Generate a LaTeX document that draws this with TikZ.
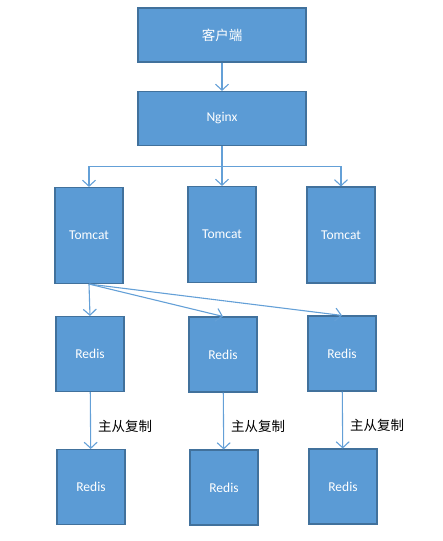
\documentclass[tikz,border=0pt]{standalone}
\usepackage{fontspec}
\setmainfont{Carlito}
\newfontfamily\cjk{Noto Sans CJK SC}
\usetikzlibrary{arrows.meta,positioning}
\definecolor{boxblue}{RGB}{91,155,213}
\definecolor{boxedge}{RGB}{65,113,156}
\definecolor{linkblue}{RGB}{100,160,215}

\begin{document}
\begin{tikzpicture}[x=1pt,y=-1pt]
    \tikzstyle{box}=[draw=boxedge, line width=1.1pt, fill=boxblue, text=white, inner sep=0pt, align=center, font=\fontsize{13.5}{16}\selectfont]
    \tikzstyle{wide}=[box, minimum width=168pt, minimum height=54pt]
    \tikzstyle{tall}=[box, minimum width=68pt, minimum height=96pt]
    \tikzstyle{square}=[box, minimum width=68pt, minimum height=75pt]
    \tikzstyle{link}=[draw=linkblue, line width=1.1pt, -{Straight Barb[length=6pt,width=13pt,line width=1.1pt]}]
    \tikzstyle{note}=[font=\cjk\fontsize{13.5}{16}\selectfont, inner sep=0pt, anchor=west, xshift=7pt]
    \useasboundingbox (0,0) rectangle (443,541);
    % top: client and nginx
    \node[wide] (client) at (222,35) {\cjk 客户端};
    \node[wide] (nginx) at (222,118.5) {Nginx};
    % tomcat row
    \node[tall] (tomcat1) at (89,235.5) {Tomcat};
    \node[tall] (tomcat2) at (222,234.5) {Tomcat};
    \node[tall] (tomcat3) at (341,235) {Tomcat};
    % redis masters
    \node[square] (redis1) at (90,354) {Redis};
    \node[square] (redis2) at (223,354.5) {Redis};
    \node[square] (redis3) at (342,353.5) {Redis};
    % redis slaves
    \node[square] (slave1) at (91,487) {Redis};
    \node[square] (slave2) at (224,487.5) {Redis};
    \node[square] (slave3) at (343,486.5) {Redis};
    % connectors
    \draw[link] (client) -- (nginx);
    \coordinate (split) at ([yshift=-20pt]nginx.south);
    \draw[link] (nginx.south) -- (tomcat2.north);
    \draw[link] (split) -| (tomcat1.north);
    \draw[link] (split) -| (tomcat3.north);
    \draw[link] (tomcat1.south) -- (redis1.north);
    \draw[link] (tomcat1.south) -- (redis2.north);
    \draw[link] (tomcat1.south) -- (redis3.north);
    \draw[link] (redis1) -- (slave1) node[note, pos=0.6] (copy1) {主从复制};
    \draw[link] (redis2) -- (slave2) node[note, pos=0.6] (copy2) {主从复制};
    \draw[link] (redis3) -- (slave3) node[note, pos=0.6] (copy3) {主从复制};
  \end{tikzpicture}
\end{document}
